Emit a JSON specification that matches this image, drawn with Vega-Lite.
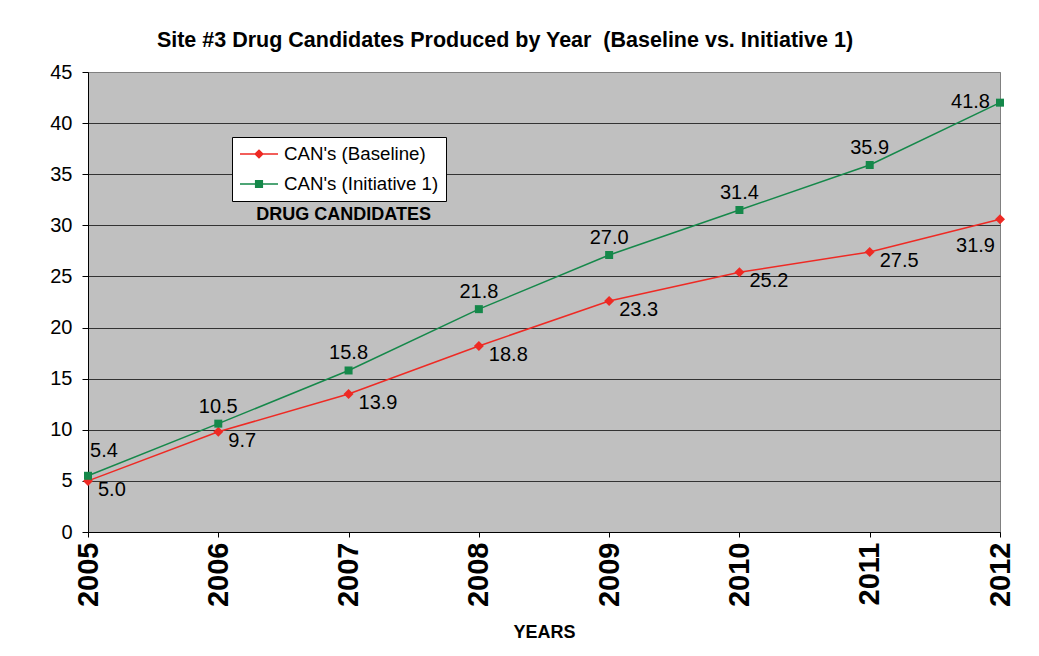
{
  "$schema": "https://vega.github.io/schema/vega-lite/v6.json",
  "width": 912,
  "height": 460,
  "autosize": {"type": "none"},
  "padding": {"left": 88, "top": 72, "right": 39, "bottom": 124},
  "background": "white",
  "title": {
    "text": "Site #3 Drug Candidates Produced by Year \u00a0(Baseline vs. Initiative 1)",
    "font": "Liberation Sans", "fontSize": 21.5, "fontWeight": "bold", "color": "black",
    "anchor": "middle", "dx": -39, "frame": "group", "baseline": "alphabetic", "offset": -6
  },
  "config": {
    "view": {"fill": "#C0C0C0", "stroke": "#808080", "strokeWidth": 1},
    "font": "Liberation Sans"
  },
  "data": {
    "values": [
      {"year": 2005, "series": "CAN's (Baseline)", "value": 5.0, "label": "5.0"},
      {"year": 2006, "series": "CAN's (Baseline)", "value": 9.8, "label": "9.7"},
      {"year": 2007, "series": "CAN's (Baseline)", "value": 13.5, "label": "13.9"},
      {"year": 2008, "series": "CAN's (Baseline)", "value": 18.2, "label": "18.8"},
      {"year": 2009, "series": "CAN's (Baseline)", "value": 22.6, "label": "23.3"},
      {"year": 2010, "series": "CAN's (Baseline)", "value": 25.4, "label": "25.2"},
      {"year": 2011, "series": "CAN's (Baseline)", "value": 27.4, "label": "27.5"},
      {"year": 2012, "series": "CAN's (Baseline)", "value": 30.6, "label": "31.9"},
      {"year": 2005, "series": "CAN's (Initiative 1)", "value": 5.5, "label": "5.4"},
      {"year": 2006, "series": "CAN's (Initiative 1)", "value": 10.6, "label": "10.5"},
      {"year": 2007, "series": "CAN's (Initiative 1)", "value": 15.8, "label": "15.8"},
      {"year": 2008, "series": "CAN's (Initiative 1)", "value": 21.8, "label": "21.8"},
      {"year": 2009, "series": "CAN's (Initiative 1)", "value": 27.1, "label": "27.0"},
      {"year": 2010, "series": "CAN's (Initiative 1)", "value": 31.5, "label": "31.4"},
      {"year": 2011, "series": "CAN's (Initiative 1)", "value": 35.9, "label": "35.9"},
      {"year": 2012, "series": "CAN's (Initiative 1)", "value": 42.0, "label": "41.8"}
    ]
  },
  "encoding": {
    "x": {
      "field": "year", "type": "ordinal",
      "scale": {"type": "point", "padding": 0},
      "axis": {
        "title": "YEARS", "titleFont": "Liberation Sans", "titleFontSize": 18, "titleFontWeight": "bold", "titleColor": "black", "titlePadding": 17,
        "labelAngle": 270, "labelFontSize": 29, "labelFontWeight": "bold", "labelColor": "black", "labelPadding": 5,
        "tickSize": 5, "tickColor": "black", "domainColor": "black", "grid": false
      }
    },
    "y": {
      "field": "value", "type": "quantitative",
      "scale": {"domain": [0, 45], "nice": false},
      "axis": {
        "title": null, "values": [0, 5, 10, 15, 20, 25, 30, 35, 40, 45],
        "labelFontSize": 20, "labelColor": "black", "labelPadding": 10,
        "tickSize": 6, "tickColor": "black", "domainColor": "black",
        "grid": true,
        "gridColor": {"condition": {"test": "datum.value === 45", "value": "#808080"}, "value": "#333333"}
      }
    }
  },
  "layer": [
    {
      "mark": {"type": "line", "strokeWidth": 1.5},
      "encoding": {
        "color": {
          "field": "series", "type": "nominal",
          "scale": {"domain": ["CAN's (Baseline)", "CAN's (Initiative 1)"], "range": ["#ee2a24", "#15884a"]},
          "legend": {
            "title": null, "orient": "none", "legendX": 144, "legendY": 65,
            "fillColor": "white", "strokeColor": "black", "padding": 7, "cornerRadius": 0,
            "labelFont": "Liberation Sans", "labelFontSize": 18.7, "labelColor": "black", "labelOffset": 5,
            "symbolSize": 1444, "clipHeight": 20, "rowPadding": 10, "symbolStrokeWidth": 1.5,
            "encode": {
              "symbols": {
                "update": {
                  "shape": {"signal": "datum.index === 0 ? 'M-1,0H1M0,-0.2L0.2,0L0,0.2L-0.2,0Z' : 'M-1,0H1M-0.175,-0.175H0.175V0.175H-0.175Z'"},
                  "fill": {"signal": "datum.index === 0 ? '#ee2a24' : '#15884a'"},
                  "stroke": {"signal": "datum.index === 0 ? '#ee2a24' : '#15884a'"},
                  "strokeWidth": {"value": 1.5},
                  "opacity": {"value": 1},
                  "fillOpacity": {"value": 1}
                }
              }
            }
          }
        }
      }
    },
    {
      "transform": [{"filter": {"field": "series", "equal": "CAN's (Baseline)"}}],
      "mark": {"type": "point", "filled": true, "opacity": 1, "shape": "diamond", "size": 100, "color": "#ee2a24"}
    },
    {
      "transform": [{"filter": {"field": "series", "equal": "CAN's (Initiative 1)"}}],
      "mark": {"type": "point", "filled": true, "opacity": 1, "shape": "square", "size": 64, "color": "#15884a"}
    },
    {
      "transform": [{"filter": {"and": [{"field": "series", "equal": "CAN's (Initiative 1)"}, {"field": "year", "range": [2006, 2011]}]}}],
      "mark": {"type": "text", "fontSize": 20, "color": "black", "align": "center", "baseline": "middle", "dy": -17},
      "encoding": {"text": {"field": "label"}}
    },
    {
      "transform": [{"filter": {"and": [{"field": "series", "equal": "CAN's (Initiative 1)"}, {"field": "year", "equal": 2005}]}}],
      "mark": {"type": "text", "fontSize": 20, "color": "black", "align": "center", "baseline": "middle", "dx": 16, "dy": -25},
      "encoding": {"text": {"field": "label"}}
    },
    {
      "transform": [{"filter": {"and": [{"field": "series", "equal": "CAN's (Initiative 1)"}, {"field": "year", "equal": 2012}]}}],
      "mark": {"type": "text", "fontSize": 20, "color": "black", "align": "right", "baseline": "middle", "dx": -10, "dy": -1},
      "encoding": {"text": {"field": "label"}}
    },
    {
      "transform": [{"filter": {"and": [{"field": "series", "equal": "CAN's (Baseline)"}, {"field": "year", "range": [2005, 2011]}]}}],
      "mark": {"type": "text", "fontSize": 20, "color": "black", "align": "left", "baseline": "middle", "dx": 10, "dy": 9},
      "encoding": {"text": {"field": "label"}}
    },
    {
      "transform": [{"filter": {"and": [{"field": "series", "equal": "CAN's (Baseline)"}, {"field": "year", "equal": 2012}]}}],
      "mark": {"type": "text", "fontSize": 20, "color": "black", "align": "right", "baseline": "middle", "dx": -5, "dy": 27},
      "encoding": {"text": {"field": "label"}}
    },
    {
      "data": {"values": [{"year": 2007, "value": 31, "note": "DRUG CANDIDATES"}]},
      "mark": {"type": "text", "fontSize": 18, "fontWeight": "bold", "color": "black", "align": "center", "baseline": "middle", "dx": -5},
      "encoding": {"text": {"field": "note"}}
    }
  ]
}
